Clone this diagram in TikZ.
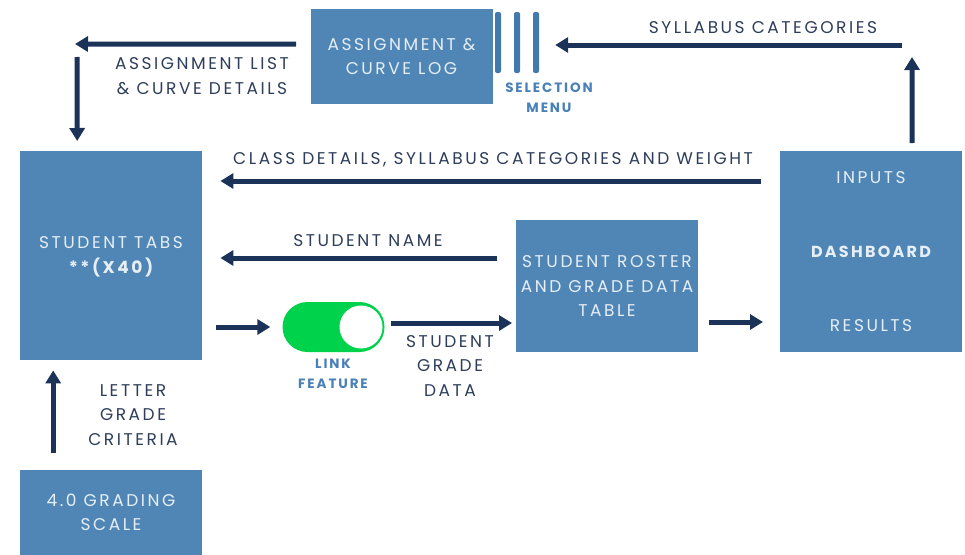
\documentclass[tikz,border=0pt]{standalone}
\usepackage{fontspec}
\setmainfont{Poppins}
\usetikzlibrary{arrows.meta}
\definecolor{boxblue}{HTML}{5086B5}
\definecolor{barblue}{HTML}{4479AE}
\definecolor{navy}{HTML}{1B3358}
\definecolor{lbl}{HTML}{2D3D5A}
\definecolor{boxtxt}{HTML}{E6EEF6}
\definecolor{selblue}{HTML}{4A80B8}
\definecolor{togglegreen}{HTML}{00D24C}
\begin{document}
\begin{tikzpicture}[x=1pt,y=-1pt,
  box/.style={fill=boxblue,inner sep=0pt,anchor=north west},
  bartick/.style={fill=barblue,inner sep=0pt,minimum width=6pt,minimum height=61pt,rounded corners=2pt},
  btxt/.style={text=boxtxt,font=\fontsize{17}{24.5}\selectfont\addfontfeature{LetterSpace=15},align=center,inner sep=0pt},
  ltxt/.style={text=lbl,font=\fontsize{17}{24.5}\selectfont\addfontfeature{LetterSpace=15},align=center,inner sep=0pt},
  stxt/.style={text=selblue,font=\fontsize{13.5}{20}\selectfont\bfseries\addfontfeature{LetterSpace=14},align=center,inner sep=0pt},
  arr/.style={draw=navy,line width=5pt,-{Triangle[width=15pt,length=13pt]}}
]
\useasboundingbox (0,0) rectangle (965,554);
% boxes
\node[box,minimum width=182pt,minimum height=95pt] (asg) at (311,9) {};
\node[box,minimum width=182pt,minimum height=209pt] (tabs) at (20,151) {};
\node[box,minimum width=182pt,minimum height=132pt] (roster) at (516,220) {};
\node[box,minimum width=182pt,minimum height=201pt] (dash) at (780,151) {};
\node[box,minimum width=182pt,minimum height=90pt] (grade) at (20,470) {};
% selection bars
\node[bartick] (bar1) at (498,42.5) {};
\node[bartick] (bar2) at (517,42.5) {};
\node[bartick] (bar3) at (536,42.5) {};
% toggle
\node[fill=togglegreen,rounded corners=25pt,minimum width=102pt,minimum height=50pt,inner sep=0pt] (tog) at (333.5,327) {};
\node[fill=white,circle,minimum size=43pt,inner sep=0pt] (knob) at (361,327) {};
% box texts
\node[btxt] (asgt) at (401.5,56.5) {ASSIGNMENT \&\\CURVE LOG};
\node[btxt] (tabst) at (111,257) {STUDENT TABS\\\bfseries **(X40)};
\node[btxt] (rostert) at (607,286) {STUDENT ROSTER\\AND GRADE DATA\\TABLE};
\node[btxt] (dinp) at (871,178) {INPUTS};
\node[btxt,font=\fontsize{16}{24}\selectfont\bfseries\addfontfeature{LetterSpace=14}] (ddash) at (871,252) {DASHBOARD};
\node[btxt] (dres) at (871,326) {RESULTS};
\node[btxt] (gradet) at (111,512.5) {4.0 GRADING\\SCALE};
% labels
\node[ltxt] (l1) at (202,76) {ASSIGNMENT LIST\\\& CURVE DETAILS};
\node[ltxt] (l2) at (763,28) {SYLLABUS CATEGORIES};
\node[ltxt] (l3) at (493,160) {CLASS DETAILS, SYLLABUS CATEGORIES AND WEIGHT};
\node[ltxt] (l4) at (368,241) {STUDENT NAME};
\node[ltxt] (l5) at (450,365.5) {STUDENT\\GRADE\\DATA};
\node[ltxt] (l6) at (133,415) {LETTER\\GRADE\\CRITERIA};
\node[stxt] (sel) at (549,98) {SELECTION\\MENU};
\node[stxt] (link) at (333,374) {LINK\\FEATURE};
% free ends
\coordinate (sylstart) at (902,45);
\coordinate (syltop) at (912,57);
\coordinate (listtip) at (75,44);
\coordinate (downstart) at (77,57);
% connectors
\draw[arr] (sylstart) -- ([xshift=16pt,yshift=-2.5pt]bar3.east);
\draw[arr] ([xshift=41pt,yshift=8pt]dash.north) -- (syltop);
\draw[arr] ([xshift=-15pt,yshift=12.5pt]asg.west) -- (listtip);
\draw[arr] (downstart) -- ([xshift=-34pt,yshift=10pt]tabs.north);
\draw[arr] ([xshift=-19pt,yshift=-30pt]dash.north west) -- ([xshift=18pt,yshift=-30pt]tabs.north east);
\draw[arr] ([xshift=-19pt,yshift=-38pt]roster.north west) -- ([xshift=18pt,yshift=-107pt]tabs.north east);
\draw[arr] ([xshift=14pt,yshift=-176pt]tabs.north east) -- ([xshift=-12pt]tog.west);
\draw[arr] ([xshift=6pt,yshift=4pt]tog.east) -- ([xshift=-4pt,yshift=-103pt]roster.north west);
\draw[arr] ([xshift=11pt,yshift=-102pt]roster.north east) -- ([xshift=-17pt,yshift=-171pt]dash.north west);
\draw[arr] ([xshift=-58pt,yshift=17pt]grade.north) -- ([xshift=-58pt,yshift=-10pt]tabs.south);
\end{tikzpicture}
\end{document}
